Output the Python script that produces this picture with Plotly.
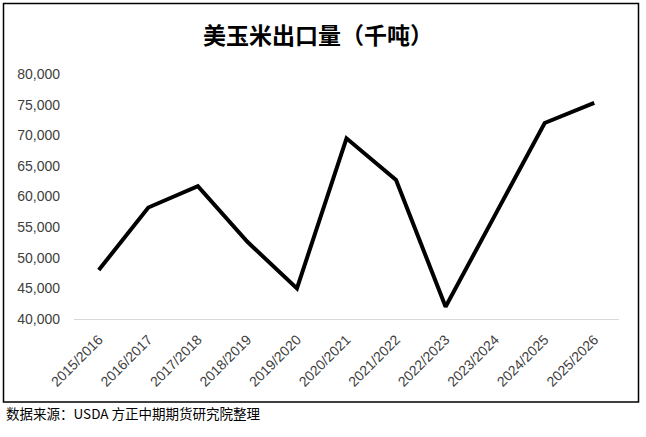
import plotly.graph_objects as go

categories = ["2015/2016", "2016/2017", "2017/2018", "2018/2019", "2019/2020",
              "2020/2021", "2021/2022", "2022/2023", "2023/2024", "2024/2025", "2025/2026"]
exports = [48000, 58200, 61700, 52600, 45000, 69500, 62700, 42000, 57000, 72000, 75300]
y_ticks = [40000, 45000, 50000, 55000, 60000, 65000, 70000, 75000, 80000]

title_text = "美玉米出口量（千吨）"
source_text = "数据来源：USDA 方正中期期货研究院整理"

W, H = 646, 437
L, R, T, B = 74, 27, 74, 118
pw, ph = W - L - R, H - T - B

def px_x(px):
    return (px - L) / pw

def px_y(py):
    return (H - B - py) / ph

fig = go.Figure()
fig.add_trace(go.Scatter(
    x=categories, y=exports, mode="lines",
    line=dict(color="#000000", width=4),
    showlegend=False, hoverinfo="x+y",
))

fig.update_layout(
    width=W, height=H,
    margin=dict(l=L, r=R, t=T, b=B),
    paper_bgcolor="#ffffff", plot_bgcolor="#ffffff",
    font=dict(family="Liberation Sans, Arial, sans-serif", size=14, color="#404040"),
    title=dict(
        text=title_text,
        x=318 / W, xanchor="center",
        y=1 - 36 / H, yanchor="middle",
        font=dict(family="Noto Sans CJK SC", size=23, color="#000000", weight="bold"),
    ),
    xaxis=dict(
        type="category",
        range=[-0.5, len(categories) - 0.5],
        showgrid=False, zeroline=False,
        showline=True, linecolor="#d9d9d9", linewidth=1,
        ticks="", tickangle=-45, ticklabelstandoff=6,
        tickfont=dict(size=14, color="#404040"),
    ),
    yaxis=dict(
        range=[40000, 80000],
        tickvals=y_ticks,
        tickformat=",",
        showgrid=False, zeroline=False, showline=False,
        ticks="", ticklabelstandoff=13,
        tickfont=dict(size=14, color="#404040"),
    ),
    shapes=[dict(
        type="rect", xref="paper", yref="paper",
        x0=px_x(3.5), x1=px_x(638.5), y0=px_y(402), y1=px_y(3.5),
        line=dict(color="#000000", width=1.5), fillcolor="rgba(0,0,0,0)",
        layer="below",
    )],
    annotations=[dict(
        text=source_text, xref="paper", yref="paper",
        x=px_x(4), y=px_y(413), xanchor="left", yanchor="middle",
        showarrow=False,
        font=dict(family="Noto Sans CJK SC", size=13.5, color="#000000"),
    )],
)

fig.write_html(
    "out.html",
    config={"displayModeBar": False},
    post_script="document.body.style.margin='0';document.body.style.overflow='hidden';",
)
